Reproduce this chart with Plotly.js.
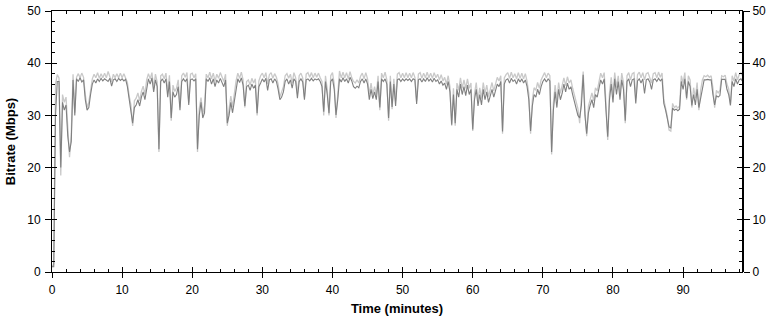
<!DOCTYPE html>
<html>
<head>
<meta charset="utf-8">
<script src="https://cdn.plot.ly/plotly-3.0.1.min.js"></script>
<style>html,body{margin:0;padding:0;background:#fff;}#chart{width:773px;height:322px;}</style>
</head>
<body>
<div id="chart"></div>
<script>
// Sample interval (minutes) of the bitrate traces
const sampleStart = 0;
const sampleStep = 0.25;

// Light grey series (Mbps), one value per 0.25 minute
const bitrateLight = [
1,1.5,36,37.8, 37.2,18.5,34,32.5, 33.5,27,22,26.5, 37.9,30.5,37.3,38, 37.2,38.1,37.3,34,
31.5,32.5,35,37, 37.9,37.2,38.2,37.1, 38,37.2,38.1,37.2, 38.4,37.3,36.4,37.9, 37.2,38,37.2,38.1,
37.2,38,37.3,36.3, 33.8,32,28,32.8, 33.3,34.3,32.8,34.6, 35.6,34,36.8,38, 37,38.2,35.2,37.9,
36.4,23,37.6,37.9, 37,38.1,34.5,37.7, 29,35.8,34.6,35.2, 36.8,31.5,37.6,38.1, 37.3,38.2,32.5,37.9,
38.1,37.2,38,23, 31.3,33.4,30.3,31.8, 37.9,37.2,38.3,37, 38.1,36.5,37.9,37.1, 38.2,37.2,36.5,37.9,
28,31.2,33.7,31.6, 34.2,36.6,38.1,37.1, 38.3,36.8,31.5,36.5, 36.8,35.8,37.1,36.2, 37,30,36.6,37.6,
38.1,37.2,38.2,36, 37.8,38.2,37.1,38, 37.3,36,33.5,34.5, 35.5,37.6,38,37.1, 37.9,36.2,38.2,37.2,
34.2,37.6,38.1,37.2, 33.5,37.9,38.2,37.3, 38.2,37.2,38.1,37.3, 38.1,37.2,36.5,30, 37.6,35,30,37.6,
38.2,36,29.5,34, 38.5,37.2,38.3,37.2, 38.2,37,38.4,37.2, 36.5,36.2,36.8,36.2, 37.5,38.1,37,38.2,
37,34,36.2,34, 35.5,34,37.6,31, 38.1,37.2,38.3,36.8, 29,37.6,31.2,37, 32.8,37.9,38.2,37.2,
38.1,37.2,38.2,37.2, 38.1,37.2,38.2,37.3, 32.8,37.9,38.2,37.1, 38.1,37.2,38.3,37.2, 38.1,37.1,38.2,37.2,
37.9,36.8,37.8,36.6, 37.3,36,37.6,35.5, 28,35.2,28,36.2, 34.8,37.2,35.2,36.8, 35.2,37,35.2,36.2,
27,34.2,36.3,32.8, 35.3,33.2,36.3,34.2, 35.8,33.6,35.3,36.3, 34.7,36.3,37.3,36.6, 37.6,26.5,37.2,37.8,
38.2,37.1,38.3,37.2, 38,37,38.2,37.1, 38.1,37,38,36.5, 34.2,26.5,33,35.3, 34.8,36.3,35.2,36.8,
37.6,38.2,37.2,38.1, 37.6,22.5,32.3,35.8, 32.8,36.3,34.2,35.5, 37.2,35.7,37.4,36.2, 36.8,35.2,33.8,32.2,
31.3,28.5,33.3,38.4, 31.2,26,31.8,33.3, 34.3,32.8,35.3,34.7, 36.3,38.1,37.2,38.2, 32.3,25.3,34.3,37.3,
33.8,38.2,35.3,37.6, 34.3,38.1,36.3,28.5, 37.6,38.2,36.8,38, 38.2,33.3,37.8,38.3, 37.2,38.2,36.8,38,
38.2,37.2,36.2,38, 38.2,37.2,38.3,37.3, 38.1,33,31.6,29.8, 27.2,27,32.3,31.5, 31.8,31.4,31.8,37.6,
36.2,38.2,33,37.6, 36.8,31.5,35.3,33.3, 36.3,31,34.8,36.8, 37.6,37.4,37.7,37.3, 37.6,35.3,31.5,34.8,
34.3,34.8,37.6,37.4, 37.7,36,35.1,31.8, 37.6,36.6,38.2,36.8, 37.8,38.2,37.5
];

// Dark grey series (Mbps), one value per 0.25 minute
const bitrateDark = [
1,1,30,36.5, 36.5,20,32.5,31, 32,26,23,25, 36.8,30,37,36.5, 37.2,36.4,36.8,33,
31,31.5,34,36, 36.8,36.2,37,36.5, 37.1,36.6,37,36.8, 36.5,37.1,35.6,36.8, 37,36.5,37.1,36.7,
37,36.6,36.9,35.5, 33,31.5,28.5,31.5, 32,33,31.8,33.5, 34.5,33,35.5,37, 36,37.2,34.5,36.8,
35.5,23.5,36.5,37, 36.2,37,33.5,36.5, 29.5,34.5,33.5,34, 35.5,31,36.5,37, 36.5,37,32,36.8,
37,36.6,37,23.5, 30,32.5,29.5,30.5, 37,36.5,37.2,36, 37,35.5,36.8,36.2, 37.1,36.4,35.5,36.8,
28.5,30,32.5,30.5, 33,35.5,37,36.3, 37.2,35.8,31.8,35.5, 35.8,34.8,36,35.2, 35.8,30.4,35.5,36.2,
37,36.4,37.1,34.8, 36.8,37,36.2,37, 36.5,35,33,33.5, 34.5,36.5,37,36, 36.8,35.2,37,36.5,
33.3,36.5,37,36.4, 33,36.8,37,36.6, 37.1,36.6,37,36.8, 37,36.5,35.5,30.7, 36.5,34,30.4,36.5,
37,35,30.1,33, 37,36.4,37.2,36.5, 37,36.2,37.3,36.6, 35.5,35.2,35.6,35.3, 36.5,37,36.2,37,
36,33,35,33.2, 34.5,33,36.5,31.5, 37,36.5,37,36, 29.5,36.5,31.6,36, 31.8,36.8,37,36.5,
37,36.6,37,36.7, 37,36.5,37,36.8, 32.2,36.8,37,36.4, 37,36.5,37.2,36.6, 37,36.4,37.1,36.5,
36.8,36,36.6,35.8, 36.2,35,36.5,34.5, 28.2,34,28.5,35, 33.5,36,34,35.5, 33.8,35.8,34,35,
27.3,33,35,31.8, 34,32,35,33, 34.5,32.5,34,35, 33.5,35,36,35.5, 36.5,26.9,36,36.8,
37,36.2,37.1,36.5, 36.8,36,37,36.4, 37,36.2,36.8,35.5, 33,27,31.8,34, 33.5,35,34,35.5,
36.5,37,36.4,37, 36.6,23,31,34.5, 31.5,35,33,34.2, 36,34.5,36.2,35, 35.5,34,32.5,31,
30,29.5,32,37.8, 30,26.5,30.5,32, 33,31.5,34,33.5, 35,36.8,36,37, 31,25.9,33,36,
32.5,37,34,36.5, 33,36.8,35,29, 36.5,37,35.5,36.8, 37,32.3,36.6,37, 36.2,37,34.2,36.8,
37,36.4,35,36.8, 37,36.5,37.1,36.6, 37,32.3,31,29, 27.8,27.6,31.4,31, 31.2,30.9,31.2,36.5,
35,37,33.3,36.5, 35.5,31.9,34,32, 35,31.5,33.5,35.5, 36.8,36.8,36.9,36.8, 36.8,34,32,33.8,
33.5,33.8,36.9,36.9, 36.9,35,34,32, 36.5,35.5,37,36, 36.8,37,36.5
];

// Axis ticks
const xTickStep = 10, xMinorStep = 2;
const yTickStep = 10, yMinorStep = 2;
const xRange = [0, 98.4];
const yRange = [0, 50];

const FONT = 'Liberation Sans, Arial, sans-serif';
const tickFont = {family: FONT, size: 12, color: '#000'};
const titleFont = {family: FONT, size: 13, color: '#000', weight: 'bold'};

const traces = [
  {type: 'scatter', mode: 'lines', x0: sampleStart, dx: sampleStep, y: bitrateLight,
   line: {color: '#c9c9c9', width: 1.3}, hoverinfo: 'skip', showlegend: false},
  {type: 'scatter', mode: 'lines', x0: sampleStart, dx: sampleStep, y: bitrateDark,
   line: {color: '#808080', width: 1.1}, showlegend: false},
  {type: 'scatter', mode: 'lines', x: [], y: [], xaxis: 'x2', yaxis: 'y', showlegend: false},
  {type: 'scatter', mode: 'lines', x: [], y: [], xaxis: 'x', yaxis: 'y2', showlegend: false},
  {type: 'scatter', mode: 'lines', x: [], y: [], xaxis: 'x', yaxis: 'y3', showlegend: false}
];

const layout = {
  width: 773, height: 322,
  margin: {l: 52, r: 31, t: 11, b: 50},
  paper_bgcolor: '#fff', plot_bgcolor: '#fff',
  showlegend: false,
  xaxis: {
    range: xRange, tick0: 0, dtick: xTickStep, ticks: 'inside', ticklen: 5, tickcolor: '#000',
    showline: true, linecolor: '#000', linewidth: 1, mirror: 'ticks',
    minor: {dtick: xMinorStep, ticks: 'inside', ticklen: 3, tickcolor: '#000'},
    showgrid: false, zeroline: false, tickfont: tickFont, ticklabelstandoff: 7,
    title: {text: 'Time (minutes)', font: titleFont, standoff: 7}
  },
  xaxis2: {
    overlaying: 'x', side: 'bottom', anchor: 'y', range: xRange, tick0: 0, dtick: xTickStep,
    ticks: 'outside', ticklen: 5, tickcolor: '#000', showticklabels: false,
    showline: false, showgrid: false, zeroline: false
  },
  yaxis: {
    range: yRange, tick0: 0, dtick: yTickStep, ticks: 'inside', ticklen: 5, tickcolor: '#000',
    showline: true, linecolor: '#000', linewidth: 1, mirror: 'ticks',
    minor: {dtick: yMinorStep, ticks: 'inside', ticklen: 3, tickcolor: '#000'},
    showgrid: false, zeroline: false, tickfont: tickFont, ticklabelstandoff: 8,
    title: {text: 'Bitrate (Mbps)', font: titleFont, standoff: 8}
  },
  yaxis2: {
    overlaying: 'y', side: 'left', anchor: 'x', range: yRange, tick0: 0, dtick: yTickStep,
    ticks: 'outside', ticklen: 6, tickcolor: '#000', showticklabels: false,
    showline: false, showgrid: false, zeroline: false
  },
  yaxis3: {
    overlaying: 'y', side: 'right', anchor: 'x', range: yRange, tick0: 0, dtick: yTickStep,
    ticks: 'outside', ticklen: 6, tickcolor: '#000', showticklabels: true, tickfont: tickFont,
    showline: true, linecolor: '#000', linewidth: 2, showgrid: false, zeroline: false
  }
};

Plotly.newPlot('chart', traces, layout, {staticPlot: true, displayModeBar: false});
</script>
</body>
</html>
